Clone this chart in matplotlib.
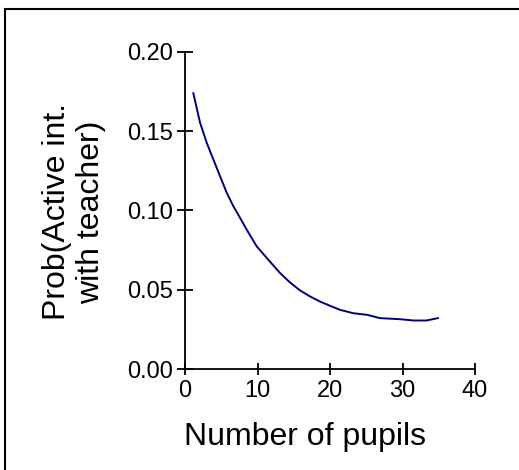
import matplotlib

matplotlib.use("Agg")
import matplotlib.pyplot as plt
from matplotlib.patches import Rectangle

# values
pupils = [1.15, 2.07, 2.99, 3.9, 4.83, 5.75, 6.67, 7.59, 8.5, 9.89, 11.27, 13.1,
          14.48, 15.86, 17.24, 18.6, 20.0, 21.4, 23.2, 25.1, 26.9, 29.7, 31.5,
          33.3, 34.9]
prob = [0.174, 0.1555, 0.1428, 0.1323, 0.1217, 0.1112, 0.1027, 0.0954, 0.088,
        0.0774, 0.0701, 0.0606, 0.0546, 0.0496, 0.0458, 0.0426, 0.0399, 0.0373,
        0.0352, 0.0342, 0.0321, 0.0314, 0.0306, 0.0306, 0.0321]
xticks = [0, 10, 20, 30, 40]
yticks = [0.00, 0.05, 0.10, 0.15, 0.20]

plt.rcParams["font.family"] = ["Liberation Sans", "DejaVu Sans"]

W, H = 519, 470
fig = plt.figure(figsize=(W / 100, H / 100), dpi=100)
fig.patches.append(Rectangle((5 / W, -0.1), 1.2, 1.1 - 9 / H, transform=fig.transFigure,
                             fill=False, edgecolor="black", linewidth=1.5))

ax = fig.add_axes([185 / W, (H - 369) / H, 290 / W, 317 / H])
ax.plot(pupils, prob, color="#000080", linewidth=1.4)
ax.set_xlim(0, 40); ax.set_ylim(0, 0.2)
ax.set_xticks(xticks); ax.set_yticks(yticks)
ax.set_yticklabels([f"{v:.2f}" for v in yticks])
for s in ["top", "right"]:
    ax.spines[s].set_visible(False)
for s in ["left", "bottom"]:
    ax.spines[s].set_linewidth(1.3)
ax.tick_params(axis="y", direction="inout", length=11, width=1.3, pad=3, labelsize=17)
ax.tick_params(axis="x", direction="inout", length=8, width=1.3, pad=4, labelsize=17)
ax.set_xlabel("Number of pupils", fontsize=23, labelpad=14)
ax.xaxis.label.set_x((305 - 185) / 290)
fig.text(74 / W, 1 - 212 / H, "Prob(Active int.\nwith teacher)", rotation=90,
         ha="center", va="center", fontsize=23, linespacing=1.15)

fig.savefig("out.png", dpi=100)
